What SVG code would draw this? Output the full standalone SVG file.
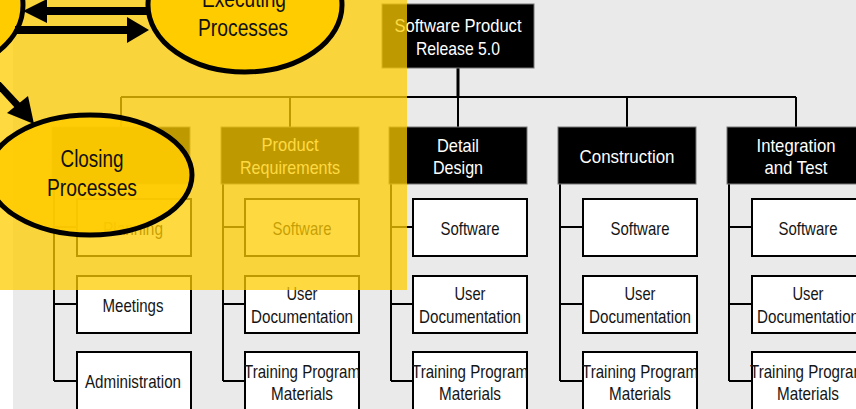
<svg xmlns="http://www.w3.org/2000/svg" width="856" height="409" viewBox="0 0 856 409">
<style>
.b3{fill:#fff;stroke:#000;stroke-width:2}
.b2{fill:#000;stroke:#777;stroke-width:1}
.ln{stroke:#000;stroke-width:2;fill:none}
.t{font-family:"Liberation Sans",Arial,sans-serif;font-size:18.5px;text-anchor:middle;fill:#151515}
.w{fill:#fff}
.e{fill:#FFCC00;stroke:#000;stroke-width:5}
.et{font-family:"Liberation Sans",Arial,sans-serif;font-size:23.5px;text-anchor:middle;fill:#111}
</style>
<defs>
<g id="c3">
<rect class="b3" x="0" y="199" width="114" height="57"/>
<rect class="b3" x="0" y="276" width="114" height="57"/>
<rect class="b3" x="0" y="352" width="114" height="60"/>
</g>
</defs>
<rect width="856" height="409" fill="#fff"/>
<rect x="13" y="0" width="843" height="409" fill="#EAEAEA"/>
<g id="connectors">
<path class="ln" d="M458 68V97" style="stroke-width:3"/>
<path class="ln" d="M121 97H796M121 97V127M290 97V127M458 97V127M627 97V127M796 97V127"/>
<path class="ln" d="M54 184V381M54 227H77M54 304H77M54 381H77"/>
<path class="ln" d="M223 184V381M223 227H245M223 304H245M223 381H245"/>
<path class="ln" d="M391 184V381M391 227H413M391 304H413M391 381H413"/>
<path class="ln" d="M560 184V381M560 227H583M560 304H583M560 381H583"/>
<path class="ln" d="M729 184V381M729 227H752M729 304H752M729 381H752"/>
</g>
<g id="node-release">
<rect class="b2" x="382" y="4" width="152" height="64"/>
<text class="t w" x="458" y="32" textLength="127" lengthAdjust="spacingAndGlyphs">Software Product</text>
<text class="t w" x="458" y="55" textLength="84" lengthAdjust="spacingAndGlyphs">Release 5.0</text>
</g>
<g id="node-project-management">
<rect class="b2" x="52" y="127" width="138" height="57"/>
</g>
<g id="node-product-requirements">
<rect class="b2" x="221" y="127" width="138" height="57"/>
<text class="t w" x="290" y="151" textLength="57" lengthAdjust="spacingAndGlyphs">Product</text>
<text class="t w" x="290" y="174" textLength="100" lengthAdjust="spacingAndGlyphs">Requirements</text>
</g>
<g id="node-detail-design">
<rect class="b2" x="389" y="127" width="138" height="57"/>
<text class="t w" x="458" y="152" textLength="42" lengthAdjust="spacingAndGlyphs">Detail</text>
<text class="t w" x="458" y="174" textLength="50" lengthAdjust="spacingAndGlyphs">Design</text>
</g>
<g id="node-construction">
<rect class="b2" x="558" y="127" width="138" height="57"/>
<text class="t w" x="627" y="163" textLength="95" lengthAdjust="spacingAndGlyphs">Construction</text>
</g>
<g id="node-integration">
<rect class="b2" x="727" y="127" width="138" height="57"/>
<text class="t w" x="796" y="152" textLength="79" lengthAdjust="spacingAndGlyphs">Integration</text>
<text class="t w" x="796" y="174" textLength="63" lengthAdjust="spacingAndGlyphs">and Test</text>
</g>
<g id="pm-children">
<use href="#c3" x="77"/>
<text class="t" x="133" y="235" textLength="60" lengthAdjust="spacingAndGlyphs">Planning</text>
<text class="t" x="133" y="312" textLength="61" lengthAdjust="spacingAndGlyphs">Meetings</text>
<text class="t" x="133" y="388" textLength="96" lengthAdjust="spacingAndGlyphs">Administration</text>
</g>
<g id="pr-children">
<use href="#c3" x="245"/>
<text class="t" x="302" y="235" textLength="59" lengthAdjust="spacingAndGlyphs">Software</text>
<text class="t" x="302" y="300" textLength="31" lengthAdjust="spacingAndGlyphs">User</text>
<text class="t" x="302" y="323" textLength="102" lengthAdjust="spacingAndGlyphs">Documentation</text>
<text class="t" x="302" y="378" textLength="116" lengthAdjust="spacingAndGlyphs">Training Program</text>
<text class="t" x="302" y="400" textLength="62" lengthAdjust="spacingAndGlyphs">Materials</text>
</g>
<g id="dd-children">
<use href="#c3" x="413"/>
<text class="t" x="470" y="235" textLength="59" lengthAdjust="spacingAndGlyphs">Software</text>
<text class="t" x="470" y="300" textLength="31" lengthAdjust="spacingAndGlyphs">User</text>
<text class="t" x="470" y="323" textLength="102" lengthAdjust="spacingAndGlyphs">Documentation</text>
<text class="t" x="470" y="378" textLength="116" lengthAdjust="spacingAndGlyphs">Training Program</text>
<text class="t" x="470" y="400" textLength="62" lengthAdjust="spacingAndGlyphs">Materials</text>
</g>
<g id="con-children">
<use href="#c3" x="583"/>
<text class="t" x="640" y="235" textLength="59" lengthAdjust="spacingAndGlyphs">Software</text>
<text class="t" x="640" y="300" textLength="31" lengthAdjust="spacingAndGlyphs">User</text>
<text class="t" x="640" y="323" textLength="102" lengthAdjust="spacingAndGlyphs">Documentation</text>
<text class="t" x="640" y="378" textLength="116" lengthAdjust="spacingAndGlyphs">Training Program</text>
<text class="t" x="640" y="400" textLength="62" lengthAdjust="spacingAndGlyphs">Materials</text>
</g>
<g id="it-children">
<use href="#c3" x="752"/>
<text class="t" x="808" y="235" textLength="59" lengthAdjust="spacingAndGlyphs">Software</text>
<text class="t" x="808" y="300" textLength="31" lengthAdjust="spacingAndGlyphs">User</text>
<text class="t" x="808" y="323" textLength="102" lengthAdjust="spacingAndGlyphs">Documentation</text>
<text class="t" x="808" y="378" textLength="116" lengthAdjust="spacingAndGlyphs">Training Program</text>
<text class="t" x="808" y="400" textLength="62" lengthAdjust="spacingAndGlyphs">Materials</text>
</g>
<rect id="overlay" x="0" y="0" width="407" height="290" fill="#FFCC00" opacity="0.75"/>
<g id="node-left-process">
<ellipse class="e" cx="-60" cy="5" rx="83" ry="65"/>
</g>
<g id="node-executing">
<ellipse class="e" cx="245" cy="5" rx="97" ry="67"/>
<text class="et" x="244" y="7" textLength="84" lengthAdjust="spacingAndGlyphs">Executing</text>
<text class="et" x="243" y="36" textLength="90" lengthAdjust="spacingAndGlyphs">Processes</text>
</g>
<g id="node-closing">
<ellipse class="e" cx="90" cy="175" rx="102" ry="60" style="fill-opacity:0.88"/>
<text class="et" x="92" y="167" textLength="63" lengthAdjust="spacingAndGlyphs">Closing</text>
<text class="et" x="92" y="196" textLength="90" lengthAdjust="spacingAndGlyphs">Processes</text>
</g>
<g id="process-arrows" fill="#000" stroke="#000">
<path d="M147 11H44" stroke-width="8" fill="none"/>
<polygon points="23,11 47,-1 47,23" stroke="none"/>
<path d="M15 30H130" stroke-width="8" fill="none"/>
<polygon points="149,30 127,17 127,43" stroke="none"/>
<path d="M-6 80L20 108" stroke-width="7" fill="none"/>
<polygon points="34,124 7,113 28,96" stroke="none"/>
</g>
</svg>
